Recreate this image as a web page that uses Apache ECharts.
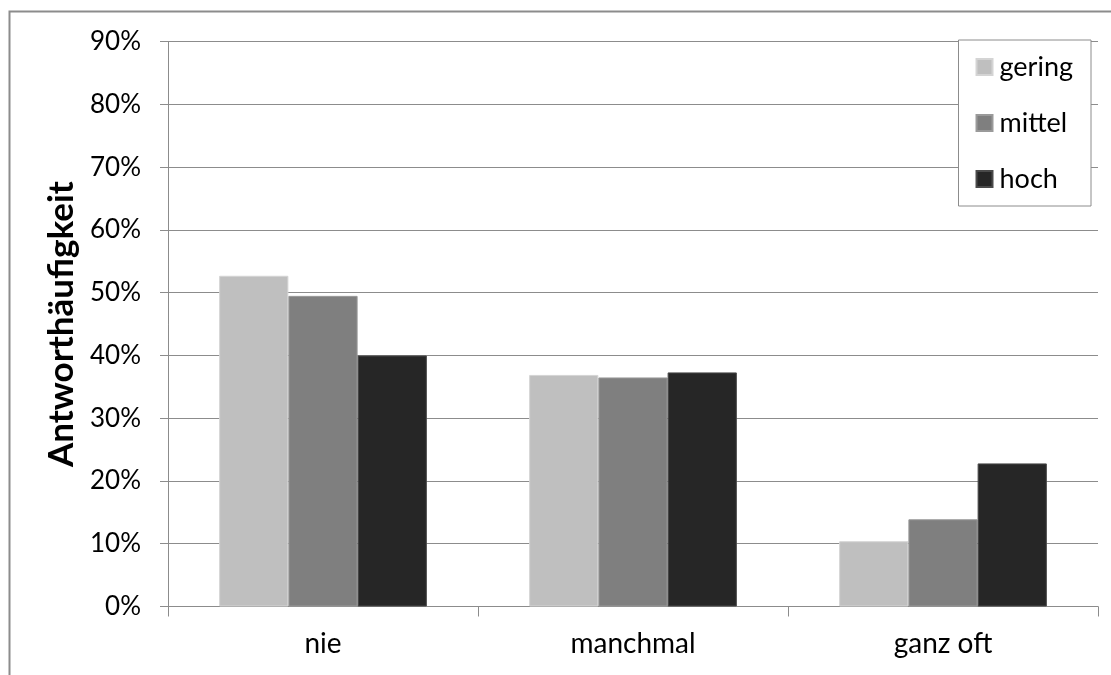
<!DOCTYPE html>
<html>
<head>
<meta charset="utf-8">
<script src="https://cdn.jsdelivr.net/npm/echarts@6/dist/echarts.min.js"></script>
<style>
  html, body { margin: 0; padding: 0; background: #fff; }
  #chart { width: 1111px; height: 675px; }
</style>
</head>
<body>
<div id="chart"></div>
<script>
// Response categories and answer shares (percent) per group
const categories = ['nie', 'manchmal', 'ganz oft'];
const seriesNames = ['gering', 'mittel', 'hoch'];
const gering = [52.7, 36.9, 10.4];
const mittel = [49.5, 36.5, 13.9];
const hoch = [40.0, 37.3, 22.8];
const yTicks = [0, 10, 20, 30, 40, 50, 60, 70, 80, 90];

const colors = ['#bfbfbf', '#7f7f7f', '#262626'];
const borders = ['#d4d4d4', '#9a9a9a', '#4a4a4a'];
const font = 'Lato, "Open Sans", sans-serif';

const chart = echarts.init(document.getElementById('chart'), null, { renderer: 'canvas' });

const values = [gering, mittel, hoch];
const series = seriesNames.map((name, i) => ({
  name,
  type: 'bar',
  data: values[i],
  barGap: '0%',
  barCategoryGap: '33%',
  itemStyle: { color: colors[i], borderColor: borders[i], borderWidth: 1 },
  emphasis: { disabled: true }
}));

chart.setOption({
  animation: false,
  backgroundColor: '#fff',
  textStyle: { fontFamily: font },
  graphic: [{
    type: 'rect',
    shape: { x: 9.5, y: 11.5, width: 1120, height: 700 },
    style: { fill: 'none', stroke: '#8c8c8c', lineWidth: 2 },
    silent: true,
    z: -1
  }],
  grid: { left: 168, right: 13, top: 41.7, bottom: 68.5, containLabel: false },
  legend: {
    orient: 'vertical',
    right: 20,
    top: 40,
    data: seriesNames,
    icon: 'rect',
    itemWidth: 16,
    itemHeight: 16,
    itemGap: 28,
    padding: [13, 18, 13, 17],
    backgroundColor: '#fff',
    borderColor: '#8c8c8c',
    borderWidth: 1,
    textStyle: { fontSize: 27, color: '#000', fontFamily: font, lineHeight: 28, padding: [0, 0, 0, 2] }
  },
  xAxis: {
    type: 'category',
    data: categories,
    axisLine: { lineStyle: { color: '#8c8c8c', width: 1 } },
    axisTick: { show: true, alignWithLabel: false, length: 10, lineStyle: { color: '#8c8c8c' } },
    axisLabel: { fontSize: 28, color: '#000', margin: 23, fontFamily: font }
  },
  yAxis: {
    type: 'value',
    min: yTicks[0],
    max: yTicks[yTicks.length - 1],
    interval: 10,
    name: 'Antworthäufigkeit',
    nameLocation: 'middle',
    nameGap: 80,
    nameTextStyle: { fontSize: 35, fontWeight: 'bold', color: '#000', fontFamily: font },
    axisLine: { show: true, lineStyle: { color: '#8c8c8c' } },
    axisTick: { show: true, length: 8, lineStyle: { color: '#8c8c8c' } },
    splitLine: { lineStyle: { color: '#8c8c8c', width: 1 } },
    axisLabel: { fontSize: 26, color: '#000', margin: 27, formatter: '{value}%', fontFamily: font }
  },
  series
});
</script>
</body>
</html>
